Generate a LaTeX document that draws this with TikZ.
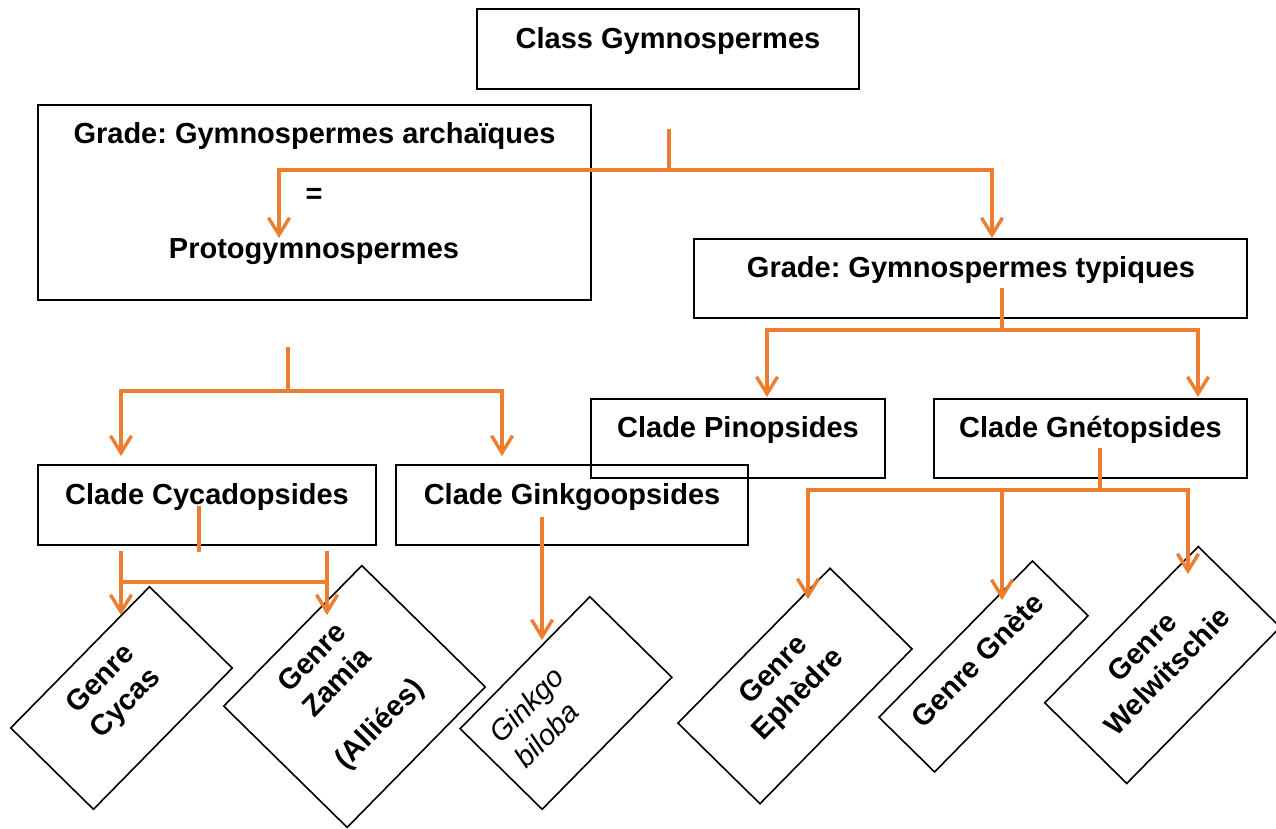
\documentclass[tikz,border=0pt]{standalone}
\usepackage{fontspec}
\setmainfont{Liberation Sans}
\usetikzlibrary{arrows.meta}
\definecolor{org}{HTML}{ED7D31}
\frenchspacing
\tikzset{
  hbox/.style={draw=black, line width=1.6pt, inner sep=0pt},
  rbox/.style={hbox, rotate=45.5},
  lbl/.style={font=\fontsize{29}{35}\selectfont\bfseries, inner sep=0pt, anchor=base},
  rlbl/.style={font=\fontsize{29}{35}\selectfont\bfseries, inner sep=0pt, align=center, rotate=45.5},
  link/.style={draw=org, line width=3.4pt, line cap=rect},
  arr/.style={draw=org, line width=3.4pt, -{Straight Barb[length=17pt,width=21pt]}}
}
\begin{document}
\begin{tikzpicture}[x=1pt,y=-1pt]
\useasboundingbox (0,0) rectangle (1276,828);
% horizontal boxes
\node[hbox, minimum width=382pt, minimum height=80pt] (cls) at (668,49) {};
\node[hbox, minimum width=553pt, minimum height=195pt] (arc) at (314.5,202.5) {};
\node[hbox, minimum width=553pt, minimum height=79pt] (typ) at (970.5,278.5) {};
\node[hbox, minimum width=294pt, minimum height=79pt] (pin) at (738,438.5) {};
\node[hbox, minimum width=313pt, minimum height=79pt] (gne) at (1090.5,438.5) {};
\node[hbox, minimum width=338pt, minimum height=80pt] (cyc) at (207,505) {};
\node[hbox, minimum width=352pt, minimum height=80pt] (gin) at (572,505) {};
% texts of horizontal boxes
\node[lbl] (clsT) at (668,48) {Class Gymnospermes};
\node[lbl] (arcT) at (314.5,143) {Grade: Gymnospermes archaïques};
\node[font=\fontsize{29}{35}\selectfont\bfseries, inner sep=0pt] (eqT) at (314,196) {=};
\node[lbl] (proT) at (314,258) {Protogymnospermes};
\node[lbl] (typT) at (971,277) {Grade: Gymnospermes typiques};
\node[lbl] (pinT) at (738,437) {Clade Pinopsides};
\node[lbl] (gneT) at (1090.5,437) {Clade Gnétopsides};
\node[lbl] (cycT) at (207,504) {Clade Cycadopsides};
\node[lbl] (ginT) at (572,504) {Clade Ginkgoopsides};
% rotated boxes
\node[rbox, minimum width=198pt, minimum height=116pt] (cas) at (121.5,698) {};
\node[rbox, minimum width=197pt, minimum height=173pt] (zam) at (354.5,696.5) {};
\node[rbox, minimum width=185pt, minimum height=115pt] (bil) at (566,703) {};
\node[rbox, minimum width=217pt, minimum height=115pt] (eph) at (795,686) {};
\node[rbox, minimum width=219pt, minimum height=78pt] (gnt) at (983.5,666.5) {};
\node[rbox, minimum width=219pt, minimum height=115pt] (wel) at (1162.5,665) {};
% rotated texts
\node[rlbl] (casT) at (114,692) {Genre\\Cycas};
\node[rlbl] (zamT) at (347,692) {Genre\\Zamia\\[24pt](Alliées)};
\node[rlbl, font=\fontsize{29}{35}\selectfont\itshape, align=left] (bilT) at (539,717) {Ginkgo\\biloba};
\node[rlbl] (ephT) at (787,683) {Genre\\Ephèdre};
\node[rlbl] (gntT) at (977,660) {Genre Gnète};
\node[rlbl] (welT) at (1154.5,659) {Genre\\Welwitschie};
% connector points
\coordinate (a0) at (669,131);
\coordinate (a1) at (669,170);
\coordinate (al) at (279,170);
\coordinate (ar) at (992,170);
\coordinate (ale) at (279,238);
\coordinate (are) at (992,238);
\coordinate (b0) at (1002,290);
\coordinate (b1) at (1002,330);
\coordinate (bl) at (767,330);
\coordinate (br) at (1198,330);
\coordinate (ble) at (767,397);
\coordinate (bre) at (1198,397);
\coordinate (c0) at (288,349);
\coordinate (c1) at (288,391);
\coordinate (cl) at (121,391);
\coordinate (cr) at (502,391);
\coordinate (cle) at (121,456);
\coordinate (cre) at (502,456);
\coordinate (d0) at (199,508);
\coordinate (d1) at (199,550);
\coordinate (dl) at (121,551);
\coordinate (dr) at (327,551);
\coordinate (dlm) at (121,582);
\coordinate (drm) at (327,582);
\coordinate (dle) at (121,615);
\coordinate (dre) at (327,615);
\coordinate (e0) at (542,517);
\coordinate (ee) at (542,640);
\coordinate (f0) at (1100,450);
\coordinate (f1) at (1100,490);
\coordinate (fl) at (808,490);
\coordinate (fm) at (1002,490);
\coordinate (fr) at (1188,490);
\coordinate (fle) at (808,599);
\coordinate (fme) at (1002,600);
\coordinate (fre) at (1188,574);
% connectors
\draw[link] (a0) -- (a1);
\draw[link] (al) -- (ar);
\draw[arr] (al) -- (ale);
\draw[arr] (ar) -- (are);
\draw[link] (b0) -- (b1);
\draw[link] (bl) -- (br);
\draw[arr] (bl) -- (ble);
\draw[arr] (br) -- (bre);
\draw[link] (c0) -- (c1);
\draw[link] (cl) -- (cr);
\draw[arr] (cl) -- (cle);
\draw[arr] (cr) -- (cre);
\draw[link] (d0) -- (d1);
\draw[link] (dlm) -- (drm);
\draw[arr] (dl) -- (dle);
\draw[arr] (dr) -- (dre);
\draw[arr] (e0) -- (ee);
\draw[link] (f0) -- (f1);
\draw[link] (fl) -- (fr);
\draw[arr] (fl) -- (fle);
\draw[arr] (fm) -- (fme);
\draw[arr] (fr) -- (fre);
\end{tikzpicture}
\end{document}
